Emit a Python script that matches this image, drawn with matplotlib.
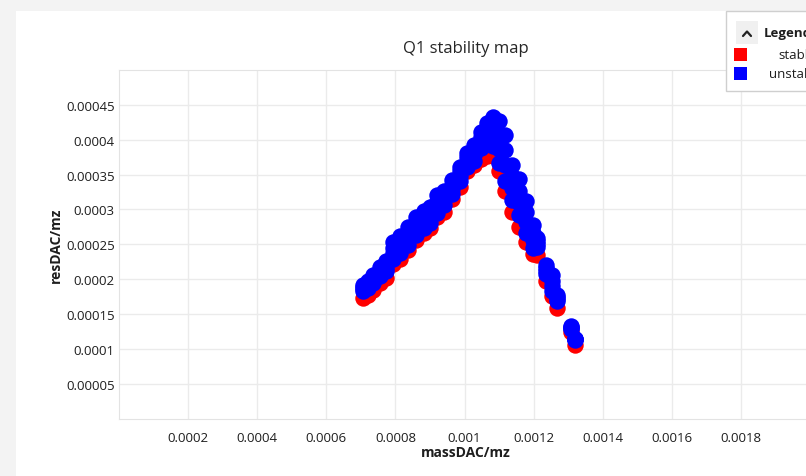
# Q1 stability map
# scatter of stable / unstable points, massDAC vs resDAC

import matplotlib
matplotlib.use('Agg')
import matplotlib.pyplot as plt
import matplotlib.ticker as mticker
from matplotlib.patches import Rectangle
import numpy as np

plt.rcParams['font.family'] = ['Open Sans', 'DejaVu Sans']

# massDAC/mz of each scanned column
mass_dac = [7.063e-4, 7.208e-4, 7.352e-4, 7.555e-4, 7.729e-4, 7.931e-4, 8.134e-4, 8.365e-4,
            8.597e-4, 8.828e-4, 9.002e-4, 9.204e-4, 9.407e-4, 9.638e-4, 9.870e-4, 1.0072e-3,
            1.0275e-3, 1.0477e-3, 1.0651e-3, 1.0825e-3, 1.0998e-3, 1.1172e-3, 1.1375e-3, 1.1577e-3,
            1.1780e-3, 1.1982e-3, 1.2098e-3, 1.2358e-3, 1.2532e-3, 1.2676e-3, 1.3082e-3, 1.3197e-3]

# resDAC/mz of unstable points, four rows per column (top -> bottom)
unstable_r1 = [1.912e-4, 1.970e-4, 2.056e-4, 2.171e-4, 2.258e-4, 2.532e-4, 2.618e-4, 2.748e-4,
               2.892e-4, 2.978e-4, 3.036e-4, 3.209e-4, 3.267e-4, 3.425e-4, 3.612e-4, 3.814e-4,
               3.929e-4, 4.117e-4, 4.246e-4, 4.333e-4, 4.275e-4, 4.073e-4, 3.641e-4, 3.439e-4,
               3.122e-4, 2.777e-4, 2.589e-4, 2.200e-4, 2.056e-4, 1.768e-4, 1.336e-4, 1.148e-4]
unstable_r2 = [1.883e-4, 1.937e-4, 2.017e-4, 2.128e-4, 2.210e-4, 2.450e-4, 2.536e-4, 2.661e-4,
               2.805e-4, 2.896e-4, 2.960e-4, 3.122e-4, 3.199e-4, 3.357e-4, 3.545e-4, 3.746e-4,
               3.853e-4, 4.040e-4, 4.146e-4, 4.193e-4, 4.073e-4, 3.853e-4, 3.473e-4, 3.267e-4,
               2.968e-4, 2.666e-4, 2.546e-4, 2.157e-4, 1.980e-4, 1.739e-4, 1.321e-4, 1.144e-4]
unstable_r3 = [1.854e-4, 1.902e-4, 1.980e-4, 2.085e-4, 2.161e-4, 2.369e-4, 2.455e-4, 2.575e-4,
               2.719e-4, 2.816e-4, 2.882e-4, 3.036e-4, 3.133e-4, 3.291e-4, 3.478e-4, 3.680e-4,
               3.775e-4, 3.963e-4, 4.045e-4, 4.055e-4, 3.872e-4, 3.631e-4, 3.305e-4, 3.094e-4,
               2.816e-4, 2.556e-4, 2.503e-4, 2.114e-4, 1.902e-4, 1.710e-4, 1.307e-4, 1.138e-4]
unstable_r4 = [1.826e-4, 1.869e-4, 1.941e-4, 2.042e-4, 2.114e-4, 2.287e-4, 2.373e-4, 2.488e-4,
               2.633e-4, 2.733e-4, 2.805e-4, 2.950e-4, 3.065e-4, 3.223e-4, 3.411e-4, 3.612e-4,
               3.699e-4, 3.886e-4, 3.944e-4, 3.915e-4, 3.670e-4, 3.411e-4, 3.137e-4, 2.921e-4,
               2.661e-4, 2.445e-4, 2.460e-4, 2.071e-4, 1.826e-4, 1.682e-4, 1.292e-4, 1.134e-4]

# resDAC/mz of stable points
stable_res = [1.725e-4, 1.768e-4, 1.840e-4, 1.941e-4, 2.013e-4, 2.215e-4, 2.287e-4, 2.416e-4,
              2.561e-4, 2.661e-4, 2.733e-4, 2.892e-4, 2.964e-4, 3.151e-4, 3.324e-4, 3.555e-4,
              3.641e-4, 3.728e-4, 3.771e-4, 3.771e-4, 3.555e-4, 3.267e-4, 2.964e-4, 2.748e-4,
              2.532e-4, 2.359e-4, 2.344e-4, 1.970e-4, 1.754e-4, 1.581e-4, 1.249e-4, 1.062e-4]

x_ticks = [0.0002, 0.0004, 0.0006, 0.0008, 0.001, 0.0012, 0.0014, 0.0016, 0.0018]
y_ticks = [0.00005, 0.0001, 0.00015, 0.0002, 0.00025, 0.0003, 0.00035, 0.0004, 0.00045]

STABLE_COLOR = '#ff0000'
UNSTABLE_COLOR = '#0000ff'
GRID_COLOR = '#ebebeb'
TEXT_COLOR = '#1e1e1e'
MARKER_S = 140

W, H = 806, 477
fig = plt.figure(figsize=(W / 100, H / 100), dpi=100, facecolor='#f3f3f3')

# white window panel behind everything (pixel coordinates)
bg = fig.add_axes([0, 0, 1, 1], zorder=0)
bg.set_xlim(0, W)
bg.set_ylim(H, 0)
bg.axis('off')
bg.add_patch(Rectangle((16, 12), W - 16, H - 12, facecolor='white', edgecolor='none'))

# plot area
left, top, bottom = 118.9, 71.0, 419.7
ax = fig.add_axes([left / W, (H - bottom) / H, (W - left) / W, (bottom - top) / H], zorder=1)
ax.set_facecolor('white')

mx = np.array(mass_dac)
ax.scatter(mx, stable_res, s=MARKER_S, c=STABLE_COLOR, marker='o', linewidths=0, zorder=3)
ux = np.concatenate([mx, mx, mx, mx])
uy = np.concatenate([unstable_r1, unstable_r2, unstable_r3, unstable_r4])
ax.scatter(ux, uy, s=MARKER_S, c=UNSTABLE_COLOR, marker='o', linewidths=0, zorder=4)

ax.set_xlim(0, (W - left) / 345600)
ax.set_ylim(0, 0.0005)
ax.set_xticks(x_ticks)
ax.set_yticks(y_ticks)
ax.xaxis.set_major_formatter(mticker.FuncFormatter(lambda v, p: ('%.5f' % v).rstrip('0')))
ax.yaxis.set_major_formatter(mticker.FuncFormatter(lambda v, p: ('%.5f' % v).rstrip('0')))
ax.tick_params(length=0, labelsize=9.5, colors=TEXT_COLOR)
ax.tick_params(axis='x', pad=9)
ax.tick_params(axis='y', pad=3)
ax.grid(True, color=GRID_COLOR, lw=1)
ax.set_axisbelow(True)
for side in ['left', 'bottom', 'top']:
    ax.spines[side].set_color('#e3e3e3')
ax.spines['right'].set_visible(False)

ax.set_xlabel('massDAC/mz', fontsize=10, fontweight='bold', color=TEXT_COLOR, va='top')
ax.xaxis.set_label_coords((466 - left) / (W - left), -(446 - bottom) / (bottom - top))
ax.set_ylabel('resDAC/mz', fontsize=10, fontweight='bold', color=TEXT_COLOR)
ax.yaxis.set_label_coords((63 - left) / (W - left), 0.5)

ax.text((466 - left) / (W - left), (bottom - 53) / (bottom - top), 'Q1 stability map',
        transform=ax.transAxes, ha='center', va='baseline', fontsize=12, color='#262626')

# legend panel on the right (cut off by window edge, as in the app)
fg = fig.add_axes([0, 0, 1, 1], zorder=5)
fg.set_xlim(0, W)
fg.set_ylim(H, 0)
fg.axis('off')
fg.add_patch(Rectangle((726, 12), 100, 80, facecolor='white', edgecolor='#cfcfcf', lw=1))
fg.add_patch(Rectangle((736, 22), 22, 23, facecolor='#f0f0f0', edgecolor='none'))
fg.plot([743, 747, 751], [37, 32.5, 37], color='#222222', lw=1.6, solid_capstyle='round')
fg.text(764, 34, 'Legend', fontsize=9.5, fontweight='bold', color=TEXT_COLOR, va='center')
fg.add_patch(Rectangle((734, 49), 13, 13, facecolor=STABLE_COLOR, edgecolor='none'))
fg.add_patch(Rectangle((734, 68), 13, 13, facecolor=UNSTABLE_COLOR, edgecolor='none'))
fg.text(797, 55.5, 'stable', fontsize=9.5, color=TEXT_COLOR, ha='center', va='center')
fg.text(796, 74.5, 'unstable', fontsize=9.5, color=TEXT_COLOR, ha='center', va='center')

fig.savefig('out.png', dpi=100, facecolor=fig.get_facecolor())
